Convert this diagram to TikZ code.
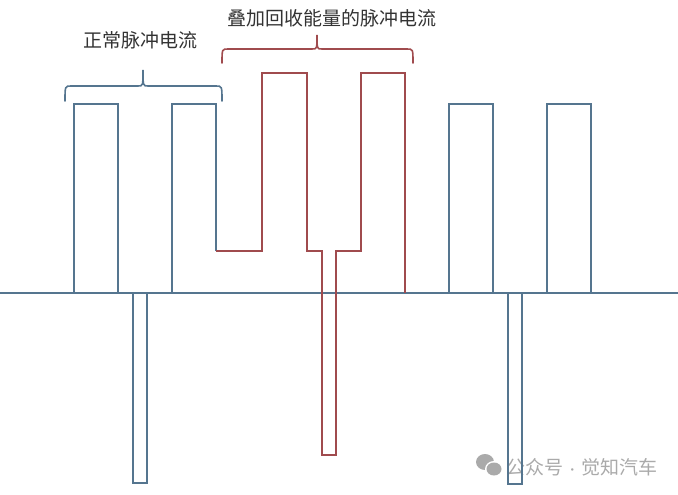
\documentclass[tikz,border=0pt]{standalone}
\usepackage{fontspec}
\newfontfamily\cjk{Noto Sans CJK SC}
\usepackage{tikz}
\usetikzlibrary{positioning}
\definecolor{pulseblue}{HTML}{55758F}
\definecolor{pulsered}{HTML}{A04B4E}
\definecolor{markgrey}{HTML}{AAAAAA}
\tikzstyle{wave} = [line width=1.8pt, line join=miter]
\tikzstyle{label} = [font=\cjk\fontsize{19}{22}\selectfont, text=black!80, inner sep=0pt]
\tikzstyle{curly} = [line width=1.6pt, line cap=round]
% brace: left x, right x, middle x, end y, bar y, tip y
\newcommand{\curlybrace}[7][]{%
	\draw[curly,#1] (#2,#5) .. controls (#2,#6) .. (#2+6,#6) -- (#4-5,#6)
		.. controls (#4,#6) .. (#4,#7) .. controls (#4,#6) .. (#4+5,#6)
		-- (#3-6,#6) .. controls (#3,#6) .. (#3,#5);}

\begin{document}
\begin{tikzpicture}[x=1pt, y=-1pt]
		\useasboundingbox (0,0) rectangle (678,495);
		% Watermark
		\fill[markgrey] (485,462) ellipse (9 and 8);
		\fill[white] (494,469) ellipse (9 and 8);
		\fill[markgrey] (494,469) ellipse (7.5 and 6.5);
		\node[label, text=markgrey, anchor=west] (mark) at (506,467) {公众号\,{\fontsize{12}{12}\selectfont·}\,觉知汽车};
		% Baseline
		\draw[wave, pulseblue] (0,293) -- (678,293);
		% Normal pulses
		\draw[wave, pulseblue] (74,293) -- (74,104) -- (118,104) -- (118,293);
		\draw[wave, pulseblue] (133,293) -- (133,483) -- (147,483) -- (147,293);
		\draw[wave, pulseblue] (172,293) -- (172,104) -- (216,104) -- (216,251);
		\draw[wave, pulseblue] (449,293) -- (449,104) -- (493,104) -- (493,293);
		\draw[wave, pulseblue] (508,293) -- (508,484) -- (522,484) -- (522,293);
		\draw[wave, pulseblue] (547,293) -- (547,104) -- (591,104) -- (591,293);
		% Pulses with recovered energy
		\draw[wave, pulsered] (216,251) -- (262,251) -- (262,73) -- (307,73) -- (307,251)
			-- (322,251) -- (322,455) -- (336,455) -- (336,251) -- (361,251)
			-- (361,73) -- (405,73) -- (405,293);
		% Braces
		\curlybrace[pulseblue]{65}{222}{143}{101}{86}{70}
		\curlybrace[pulsered]{222}{413}{317}{63}{49}{35}
		% Labels
		\node[label] (normal) at (140,40) {正常脉冲电流};
		\node[label] (regen) at (332,18) {叠加回收能量的脉冲电流};
	\end{tikzpicture}
\end{document}
